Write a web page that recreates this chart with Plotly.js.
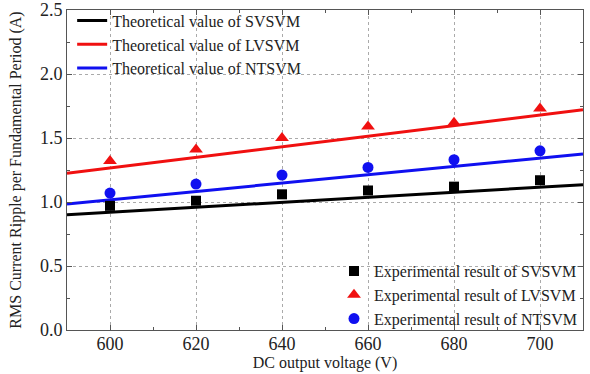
<!DOCTYPE html>
<html><head><meta charset="utf-8">
<script src="https://cdn.plot.ly/plotly-3.0.1.min.js"></script>
<style>html,body{margin:0;padding:0;background:#fff}#chart{width:590px;height:374px}</style>
</head><body><div id="chart"></div>
<script>
const voltageEnds = [590, 710];
const theorySVSVM = [0.90, 1.135];
const theoryLVSVM = [1.225, 1.72];
const theoryNTSVM = [0.985, 1.375];
const voltages = [600, 620, 640, 660, 680, 700];
const expSVSVM = [0.97, 1.01, 1.06, 1.09, 1.12, 1.17];
const expLVSVM = [1.32, 1.41, 1.50, 1.59, 1.62, 1.73];
const expNTSVM = [1.07, 1.14, 1.21, 1.27, 1.33, 1.40];
const xTicks = [600, 620, 640, 660, 680, 700];
const yTicks = [0.0, 0.5, 1.0, 1.5, 2.0, 2.5];

const font = 'Liberation Serif, Times New Roman, serif';
const traces = [
  {x: voltageEnds, y: theorySVSVM, mode: 'lines', name: 'Theoretical value of SVSVM', line: {color: '#000000', width: 3}, legend: 'legend'},
  {x: voltageEnds, y: theoryLVSVM, mode: 'lines', name: 'Theoretical value of LVSVM', line: {color: '#f01010', width: 3}, legend: 'legend'},
  {x: voltageEnds, y: theoryNTSVM, mode: 'lines', name: 'Theoretical value of NTSVM', line: {color: '#1010f0', width: 3}, legend: 'legend'},
  {x: voltages, y: expSVSVM, mode: 'markers', name: 'Experimental result of SVSVM', marker: {color: '#000000', symbol: 'square', size: 10}, legend: 'legend2'},
  {x: voltages, y: expLVSVM, mode: 'markers', name: 'Experimental result of LVSVM', marker: {color: '#f01010', symbol: 'triangle-up', size: 12}, legend: 'legend2'},
  {x: voltages, y: expNTSVM, mode: 'markers', name: 'Experimental result of NTSVM', marker: {color: '#1010f0', symbol: 'circle', size: 11}, legend: 'legend2'}
];
const axisCommon = {
  showline: true, linecolor: '#555', linewidth: 1, mirror: 'allticks',
  ticks: 'inside', ticklen: 5, tickcolor: '#555', automargin: false,
  showgrid: true, gridcolor: '#aaa', griddash: 'dot', gridwidth: 1,
  zeroline: false, tickfont: {family: font, size: 18, color: '#222'}
};
const layout = {
  width: 590, height: 374,
  margin: {l: 67, r: 7, t: 10, b: 44, autoexpand: false},
  paper_bgcolor: '#fff', plot_bgcolor: '#fff',
  showlegend: true,
  xaxis: Object.assign({}, axisCommon, {
    range: [590, 710], tickvals: xTicks, ticktext: xTicks.map(String), ticklabelstandoff: -3,
    minor: {ticks: 'inside', ticklen: 3, tickcolor: '#555', dtick: 10, tick0: 590, showgrid: false},
    title: {text: 'DC output voltage (V)', font: {family: font, size: 16, color: '#222'}, standoff: 0}
  }),
  yaxis: Object.assign({}, axisCommon, {
    range: [0, 2.5], tickvals: yTicks, ticktext: yTicks.map(v => v.toFixed(1)),
    minor: {ticks: 'inside', ticklen: 3, tickcolor: '#555', dtick: 0.25, tick0: 0, showgrid: false},
    title: {text: 'RMS Current Ripple per Fundamental Period (A)', font: {family: font, size: 16, color: '#222'}, standoff: 14}
  }),
  legend: {x: 0.01, y: 1.02, xanchor: 'left', yanchor: 'top', bgcolor: 'rgba(0,0,0,0)',
    font: {family: font, size: 16, color: '#222'}, tracegroupgap: 0},
  legend2: {x: 1, y: -0.019, xanchor: 'right', yanchor: 'bottom', bgcolor: 'rgba(0,0,0,0)',
    font: {family: font, size: 16, color: '#222'}, tracegroupgap: 0}
};
Plotly.newPlot('chart', traces, layout, {displayModeBar: false, staticPlot: true});
</script></body></html>
